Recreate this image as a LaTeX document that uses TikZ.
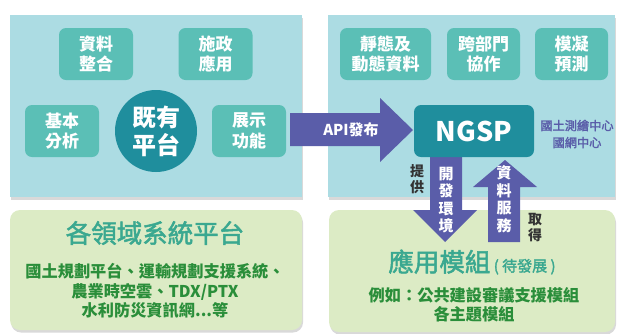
\documentclass[tikz,border=0pt]{standalone}
\usepackage{fontspec}
\setmainfont{Noto Sans CJK TC}
\newfontfamily\medfont{Noto Sans CJK TC}[FakeBold=2]
\usetikzlibrary{shadows}
\definecolor{panelblue}{HTML}{ACDCE3}
\definecolor{boxteal}{HTML}{5BBFB6}
\definecolor{darkteal}{HTML}{1F8E9D}
\definecolor{arrowblue}{HTML}{5A5DA9}
\definecolor{panelgreen}{HTML}{DCEBC5}
\definecolor{titleteal}{HTML}{3AA890}
\definecolor{textgreen}{HTML}{2A8E3A}
\definecolor{labeldark}{HTML}{333333}
\begin{document}
\begin{tikzpicture}[x=1pt,y=-1pt,
  shade/.style={drop shadow={shadow xshift=1pt,shadow yshift=-2.5pt,fill=black,opacity=.15}},
  panel/.style={fill=panelblue,draw=none,inner sep=0pt,shade},
  gpanel/.style={fill=panelgreen,draw=none,inner sep=0pt,rounded corners=10pt,shade},
  sbox/.style={fill=boxteal,draw=none,rounded corners=7pt,minimum width=74pt,minimum height=52pt,inner sep=0pt,
    text=white,font=\fontsize{17}{20.5}\selectfont\bfseries,align=center},
  wtxt/.style={text=white,font=\fontsize{15}{17.5}\selectfont\bfseries,align=center,inner sep=0pt},
  ltxt/.style={text=labeldark,font=\fontsize{14}{16}\selectfont\bfseries,align=center,inner sep=0pt},
  gtxt/.style={text=textgreen,font=\fontsize{16.2}{19.5}\selectfont\bfseries,align=center,inner sep=0pt},
  bigt/.style={text=titleteal,font=\fontsize{25.5}{28}\selectfont\medfont,inner sep=0pt},
  arr/.style={fill=arrowblue,draw=none}]
\useasboundingbox (0,0) rectangle (617,333);
% panels
\node[panel,minimum width=292pt,minimum height=182pt] (lp) at (156,106) {};
\node[panel,minimum width=287pt,minimum height=182pt] (rp) at (471.5,106) {};
\node[gpanel,minimum width=292pt,minimum height=120pt] (lg) at (156,270) {};
\node[gpanel,minimum width=286pt,minimum height=122pt] (rg) at (472,271) {};
% left panel content
\node[sbox] (zl) at (96,54) {資料\\整合};
\node[sbox] (sz) at (215.5,54) {施政\\應用};
\node[sbox] (jb) at (62,131) {基本\\分析};
\node[sbox] (zs) at (249,131) {展示\\功能};
\node[circle,fill=darkteal,minimum size=82pt,inner sep=0pt,text=white,
  font=\fontsize{24}{28}\selectfont\bfseries,align=center] (jy) at (156,131) {既有\\平台};
% right panel content
\node[sbox,minimum width=91pt] (jt) at (385.5,54) {靜態及\\動態資料};
\node[sbox,minimum width=73pt] (kb) at (483.5,54) {跨部門\\協作};
\node[sbox,minimum width=73pt] (mn) at (571.5,54) {模凝\\預測};
% arrows
\path[arr] (430,150) -- (462,150) -- (462,210) -- (477,210) -- (445,242) -- (413,210) -- (430,210) -- cycle;
\path[arr] (488,242) -- (488,187) -- (473,187) -- (505,160) -- (537,187) -- (520,187) -- (520,242) -- cycle;
\node[fill=darkteal,rounded corners=7pt,minimum width=120pt,minimum height=52pt,inner sep=0pt,
  text=white,font=\fontsize{27}{30}\selectfont\bfseries] (ngsp) at (474,131) {NGSP};
\path[arr] (290,113) -- (380,113) -- (380,98) -- (413,130) -- (380,162) -- (380,146) -- (290,146) -- cycle;
\node[wtxt] (api) at (351,130) {API發布};
\node[wtxt] (kf) at (446,200) {開\\發\\環\\境};
\node[wtxt] (zf) at (504,199) {資\\料\\服\\務};
\node[ltxt] (tg) at (417,179) {提\\供};
\node[ltxt] (qd) at (535,228) {取\\得};
\node[text=arrowblue,font=\fontsize{12.2}{17}\selectfont\medfont,align=center,inner sep=0pt] (gt) at (577,134) {國土測繪中心\\國網中心};
% bottom left
\node[bigt] (gly) at (155,233) {各領域系統平台};
\node[gtxt] (glist) at (155,291) {國土規劃平台、運輸規劃支援系統、\\農業時空雲、TDX/PTX\\水利防災資訊網...等};
% bottom right
\node[inner sep=0pt] (yy) at (472,262) {\textcolor{titleteal}{\fontsize{25.5}{28}\selectfont\medfont 應用模組}\textcolor{titleteal}{\fontsize{15}{18}\selectfont\medfont\ ( 待發展 )}};
\node[gtxt] (yr) at (474,305) {例如：公共建設審議支援模組\\各主題模組};
\end{tikzpicture}
\end{document}
